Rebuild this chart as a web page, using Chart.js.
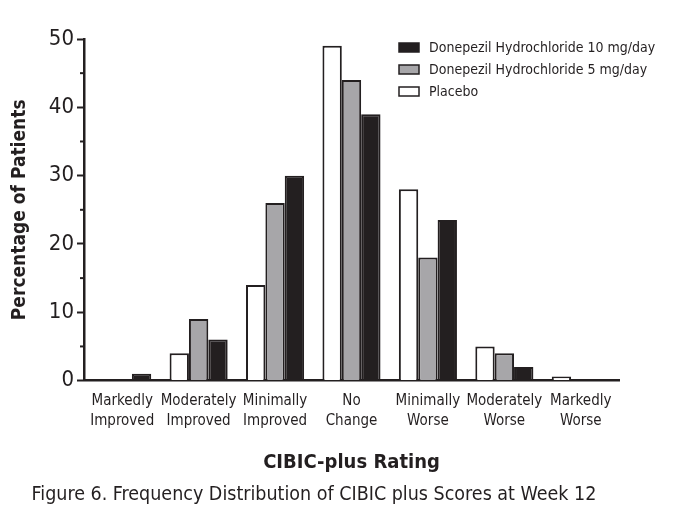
<!DOCTYPE html>
<html>
<head>
<meta charset="utf-8">
<script src="https://cdn.jsdelivr.net/npm/chart.js@4/dist/chart.umd.min.js"></script>
<style>
  html, body { margin: 0; padding: 0; background: #fff; }
  #wrap { width: 700px; height: 521px; }
</style>
</head>
<body>
<div id="wrap"><canvas id="cibic" width="700" height="521"></canvas></div>
<script>
const ratings = [
    ["Markedly", "Improved"],
    ["Moderately", "Improved"],
    ["Minimally", "Improved"],
    ["No", "Change"],
    ["Minimally", "Worse"],
    ["Moderately", "Worse"],
    ["Markedly", "Worse"],
];
const placebo = [0, 4, 14, 49, 28, 5, 0.6];
const dose5mg = [0, 9, 26, 44, 18, 4, 0];
const dose10mg = [1, 6, 30, 39, 23.5, 2, 0];
const yTicks = [0, 10, 20, 30, 40, 50];

const ink = "#231f20";
const narrow = "'Liberation Sans Narrow', 'DejaVu Sans Condensed', sans-serif";

// legend drawn by hand so it sits inside the plot, 10 mg first
const insideLegend = {
    id: "insideLegend",
    afterDraw(chart) {
        const ctx = chart.ctx;
        const items = chart.data.datasets.slice().reverse();
        ctx.save();
        ctx.font = "14px " + narrow;
        ctx.textBaseline = "middle";
        items.forEach((ds, i) => {
            const y = 47 + i * 22;
            ctx.fillStyle = ds.backgroundColor;
            ctx.fillRect(399, y - 4, 20, 9);
            ctx.strokeStyle = ink;
            ctx.lineWidth = 1.5;
            ctx.strokeRect(399, y - 4, 20, 9);
            ctx.fillStyle = ink;
            ctx.fillText(ds.label, 429, y + 1);
        });
        ctx.restore();
    }
};

// short ticks at the 5s
const minorTicks = {
    id: "minorTicks",
    afterDraw(chart) {
        const y = chart.scales.y;
        const ctx = chart.ctx;
        ctx.save();
        ctx.strokeStyle = ink;
        ctx.lineWidth = 2;
        for (let v = 5; v < 50; v += 10) {
            const py = y.getPixelForValue(v);
            ctx.beginPath();
            ctx.moveTo(y.right - 4, py);
            ctx.lineTo(y.right, py);
            ctx.stroke();
        }
        ctx.restore();
    }
};

new Chart(document.getElementById("cibic"), {
    type: "bar",
    data: {
        labels: ratings,
        datasets: [{
            label: "Placebo",
            data: placebo,
            backgroundColor: "#ffffff",
        }, {
            label: "Donepezil Hydrochloride 5 mg/day",
            data: dose5mg,
            backgroundColor: "#a7a6a9",
        }, {
            label: "Donepezil Hydrochloride 10 mg/day",
            data: dose10mg,
            backgroundColor: ink,
        }],
    },
    options: {
        responsive: false,
        animation: false,
        layout: {
            padding: { top: 39, right: 81, bottom: 8, left: 9 }
        },
        datasets: {
            bar: {
                borderColor: ink,
                borderWidth: c => (c.raw ? 2 : 0),
                borderSkipped: "bottom",
                categoryPercentage: 0.76,
                barPercentage: 1,
            }
        },
        scales: {
            x: {
                grid: { display: false },
                border: { display: true, color: ink, width: 2.5 },
                ticks: {
                    color: ink,
                    padding: 3,
                    maxRotation: 0,
                    autoSkip: false,
                    font: { family: narrow, size: 15, lineHeight: 1.3 },
                },
                title: {
                    display: true,
                    text: "CIBIC-plus Rating",
                    color: ink,
                    padding: { top: 17, bottom: 5 },
                    font: { family: narrow, size: 20, weight: "bold" },
                },
            },
            y: {
                min: 0,
                max: 50,
                afterBuildTicks(scale) {
                    scale.ticks = yTicks.map(v => ({ value: v }));
                },
                grid: {
                    display: true,
                    drawOnChartArea: false,
                    drawTicks: true,
                    tickLength: 7,
                    tickColor: ink,
                    tickWidth: 2,
                },
                border: { display: true, color: ink, width: 2.5 },
                ticks: {
                    color: ink,
                    padding: 3,
                    font: { family: narrow, size: 22 },
                },
                title: {
                    display: true,
                    text: "Percentage of Patients",
                    color: ink,
                    padding: { top: 0, bottom: 14 },
                    font: { family: narrow, size: 19, weight: "bold" },
                },
            },
        },
        plugins: {
            legend: { display: false },
            tooltip: { enabled: false },
            title: {
                display: true,
                position: "bottom",
                text: "Figure 6. Frequency Distribution of CIBIC plus Scores at Week 12",
                color: ink,
                padding: { top: 4, bottom: 6 },
                font: { family: narrow, size: 19.5, weight: "normal" },
            },
        },
    },
    plugins: [insideLegend, minorTicks],
});
</script>
</body>
</html>
